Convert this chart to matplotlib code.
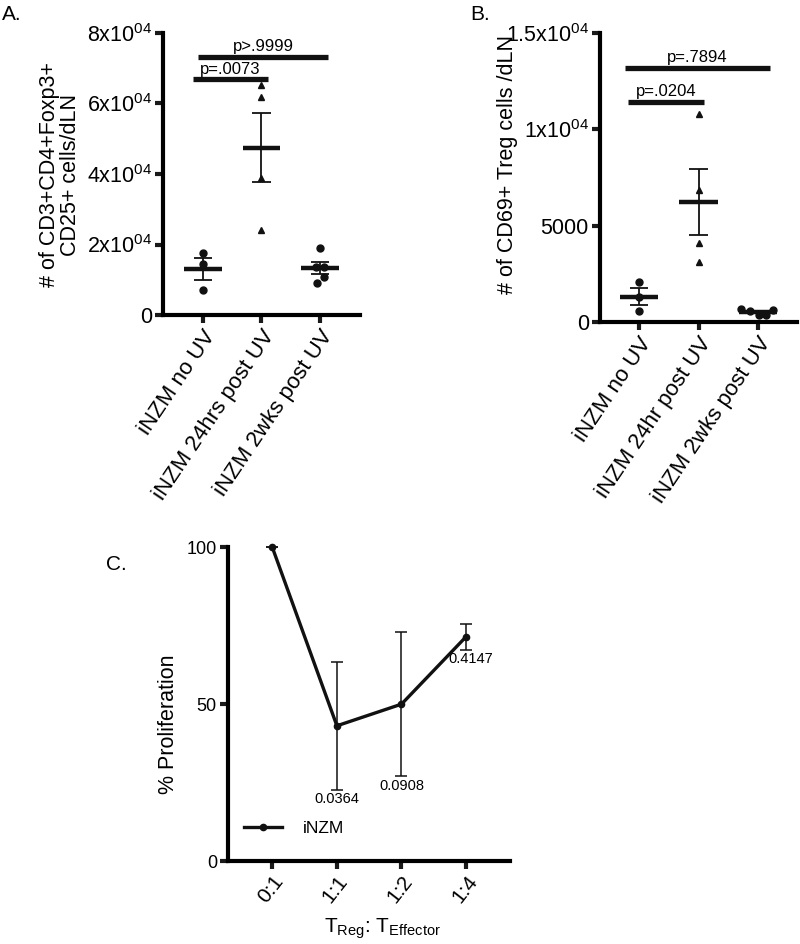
import matplotlib
matplotlib.use("Agg")
import matplotlib.pyplot as plt
import numpy as np

plt.rcParams['font.family'] = ['Liberation Sans', 'DejaVu Sans']
plt.rcParams['mathtext.fontset'] = 'custom'
plt.rcParams['mathtext.rm'] = 'Liberation Sans'
plt.rcParams['mathtext.it'] = 'Liberation Sans'

# ---------------- data ----------------
A_groups = ['iNZM no UV', 'iNZM 24hrs post UV', 'iNZM 2wks post UV']
A_no_uv = [17670, 14470, 7090]
A_24h = [65250, 61760, 38780, 24110]
A_2wk = [19090, 13700, 13530, 10870, 8990]
A_yticks = [0, 20000, 40000, 60000, 80000]
A_yticklabels = ['0', r'$\mathregular{2x10^{04}}$', r'$\mathregular{4x10^{04}}$',
                 r'$\mathregular{6x10^{04}}$', r'$\mathregular{8x10^{04}}$']
A_pvals = ['p=.0073', 'p>.9999']
A_pbar_y = [66950, 73280]

B_groups = ['iNZM no UV', 'iNZM 24hr post UV', 'iNZM 2wks post UV']
B_no_uv = [2060, 1313, 571]
B_24h = [10780, 6851, 4116, 3099]
B_2wk = [675, 570, 363, 363, 623]
B_yticks = [0, 5000, 10000, 15000]
B_yticklabels = ['0', '5000', r'$\mathregular{1x10^{04}}$', r'$\mathregular{1.5x10^{04}}$']
B_pvals = ['p=.0204', 'p=.7894']
B_pbar_y = [11430, 13200]

C_ratios = ['0:1', '1:1', '1:2', '1:4']
C_prolif = [100, 43.1, 50, 71.5]
C_err = [0, 20.4, 23.0, 4.1]
C_pvals = ['', '0.0364', '0.0908', '0.4147']

# layout (jitter offsets / bar spans)
A_jit = [[0, 0, 0], [0, 0, 0, 0], [0, -0.07, 0.06, 0.06, -0.06]]
B_jit = [[0, 0, 0], [0, 0, 0, 0], [-0.29, -0.13, 0.02, 0.13, 0.25]]
A_pbar_x = [(-0.17, 1.11), (-0.085, 2.14)]
B_pbar_x = [(-0.19, 1.09), (-0.235, 2.2)]

W, H = 800, 944
fig = plt.figure(figsize=(W / 100, H / 100), dpi=100)


def ax_px(x0, x1, y_top, y_bot):
    return fig.add_axes([x0 / W, 1 - y_bot / H, (x1 - x0) / W, (y_bot - y_top) / H])


def style(ax):
    for s in ['top', 'right']:
        ax.spines[s].set_visible(False)
    for s in ['left', 'bottom']:
        ax.spines[s].set_linewidth(3)
    ax.tick_params(width=3, length=6, pad=2, color='#1a1a1a')
    ax.patch.set_alpha(0)


def scatter_panel(ax, groups_data, markers, jits, xlim, ylim, yticks, yticklabels,
                  xlabels, pvals, pbar_x, pbar_y, ptext_off):
    for i, (vals, m, jit) in enumerate(zip(groups_data, markers, jits)):
        vals = np.array(vals, dtype=float)
        mean = vals.mean()
        sem = vals.std(ddof=1) / np.sqrt(len(vals))
        ax.plot(i + np.array(jit), vals, linestyle='none', marker=m,
                markersize=5 if m == 'o' else 4.5, color='#111111', zorder=3)
        ax.hlines(mean, i - 0.32, i + 0.32, color='#111111', lw=3.2, zorder=4)
        ax.vlines(i, mean - sem, mean + sem, color='#111111', lw=1.3, zorder=4)
        ax.hlines([mean - sem, mean + sem], i - 0.155, i + 0.155, color='#111111', lw=1.3, zorder=4)
    for (x0, x1), y, t in zip(pbar_x, pbar_y, pvals):
        ax.hlines(y, x0, x1, color='#111111', lw=3.8)
        ax.text((x0 + x1) / 2, y + ptext_off, t, ha='center', va='bottom', fontsize=12)
    ax.set_xlim(*xlim)
    ax.set_ylim(*ylim)
    ax.set_yticks(yticks)
    ax.set_yticklabels(yticklabels, fontsize=15.5)
    ax.set_xticks(range(len(xlabels)))
    ax.set_xticklabels(xlabels, rotation=56, ha='right', rotation_mode='anchor', fontsize=16)
    style(ax)


# Panel A
axA = ax_px(163, 360, 33, 315)
scatter_panel(axA, [A_no_uv, A_24h, A_2wk], ['o', '^', 'o'], A_jit, (-0.68, 2.68), (0, 80000),
              A_yticks, A_yticklabels, A_groups, A_pvals, A_pbar_x, A_pbar_y, 700)
fig.text(60 / W, 1 - 175 / H, '# of CD3+CD4+Foxp3+\nCD25+ cells/dLN', rotation=90,
         ha='center', va='center', fontsize=15.5, multialignment='center', linespacing=1.05)
fig.text(2 / W, 1 - 14 / H, 'A.', ha='left', va='center', fontsize=15)

# Panel B
axB = ax_px(600, 797, 33, 322)
scatter_panel(axB, [B_no_uv, B_24h, B_2wk], ['o', '^', 'o'], B_jit, (-0.655, 2.655), (0, 15000),
              B_yticks, B_yticklabels, B_groups, B_pvals, B_pbar_x, B_pbar_y, 130)
fig.text(508 / W, 1 - 165 / H, '# of CD69+ Treg cells /dLN', rotation=90,
         ha='center', va='center', fontsize=15.5)
fig.text(470 / W, 1 - 14 / H, 'B.', ha='left', va='center', fontsize=15)

# Panel C
axC = ax_px(228, 510, 547.3, 861)
xs = np.arange(len(C_ratios))
axC.errorbar(xs, C_prolif, yerr=C_err, fmt='none', ecolor='#111111',
             elinewidth=1.1, capsize=4, capthick=1.1, zorder=3, clip_on=False)
axC.plot(xs, C_prolif, color='#111111', lw=2.4, marker='o', markersize=4.5,
         label='iNZM', zorder=4, clip_on=False)
for x, y, e, t in zip(xs, C_prolif, C_err, C_pvals):
    if t:
        axC.text(x + (0.08 if x == 3 else 0), y - e - 0.8, t, ha='center', va='top', fontsize=10.5)
axC.set_xlim(-0.686, 3.68)
axC.set_ylim(0, 100)
axC.set_yticks([0, 50, 100])
axC.set_yticklabels(['0', '50', '100'], fontsize=13)
axC.set_xticks(xs)
axC.set_xticklabels(C_ratios, rotation=52, ha='right', rotation_mode='anchor', fontsize=15)
style(axC)
fig.text(168 / W, 1 - 724 / H, '% Proliferation', rotation=90, ha='center', va='center',
         fontsize=15.5)
fig.text(383 / W, 1 - 929 / H, r'T$_{\mathrm{Reg}}$: T$_{\mathrm{Effector}}$', ha='center',
         va='center', fontsize=15)
leg = axC.legend(loc='lower left', bbox_to_anchor=(0.0, 0.03), frameon=False, fontsize=12.5,
                 handlelength=2.2, handletextpad=1.2)
fig.text(106 / W, 1 - 565 / H, 'C.', ha='left', va='center', fontsize=15)

fig.savefig('out.png', dpi=100)
